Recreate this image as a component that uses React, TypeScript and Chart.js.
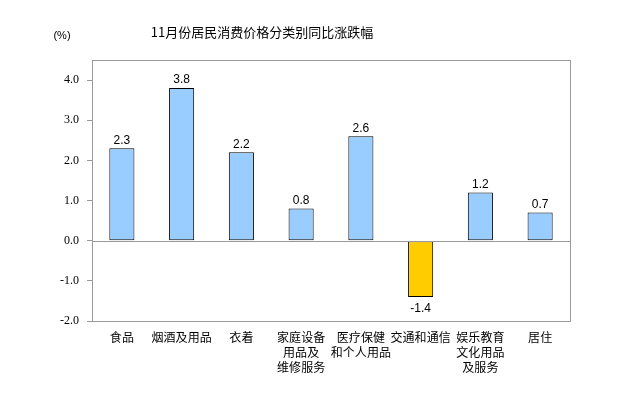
import React, { useEffect, useRef } from "react";
import { Chart, registerables } from "chart.js";

Chart.register(...registerables);

const TITLE = "11月份居民消费价格分类别同比涨跌幅";
const UNIT = "(%)";
const categories: (string | string[])[] = [
  "食品",
  "烟酒及用品",
  "衣着",
  ["家庭设备", "用品及", "维修服务"],
  ["医疗保健", "和个人用品"],
  "交通和通信",
  ["娱乐教育", "文化用品", "及服务"],
  "居住",
];
const values = [2.3, 3.8, 2.2, 0.8, 2.6, -1.4, 1.2, 0.7];
const yTicks = [-2, -1, 0, 1, 2, 3, 4];

const CJK = "'Noto Sans CJK SC', 'Liberation Sans', sans-serif";
const SANS = "'Liberation Sans', Arial, sans-serif";
const SERIF = "'Liberation Serif', 'Times New Roman', serif";

const decorPlugin = {
  id: "decor",
  afterDraw(chart: any) {
    const { ctx, chartArea } = chart;
    const y = chart.scales.y;
    ctx.save();
    // zero line
    const y0 = Math.round(y.getPixelForValue(0)) + 0.5;
    ctx.strokeStyle = "#999999";
    ctx.lineWidth = 1;
    ctx.beginPath();
    ctx.moveTo(chartArea.left, y0);
    ctx.lineTo(chartArea.right, y0);
    ctx.stroke();
    // frame
    ctx.strokeRect(
      Math.round(chartArea.left) + 0.5,
      Math.round(chartArea.top) + 0.5,
      Math.round(chartArea.right - chartArea.left),
      Math.round(chartArea.bottom - chartArea.top)
    );
    // value labels
    const meta = chart.getDatasetMeta(0);
    ctx.fillStyle = "#000";
    ctx.font = `12px ${SANS}`;
    ctx.textAlign = "center";
    meta.data.forEach((bar: any, i: number) => {
      const v = values[i];
      if (v >= 0) {
        ctx.textBaseline = "bottom";
        ctx.fillText(v.toFixed(1), bar.x, bar.y - 2);
      } else {
        ctx.textBaseline = "top";
        ctx.fillText(v.toFixed(1), bar.x, bar.y + 6);
      }
    });
    // title
    ctx.font = `13px ${CJK}`;
    ctx.textBaseline = "middle";
    ctx.fillText(TITLE, 262, 32);
    ctx.font = `11px ${SANS}`;
    ctx.fillText(UNIT, 62, 36);
    ctx.restore();
  },
};

export default function App() {
  const ref = useRef<HTMLCanvasElement | null>(null);
  useEffect(() => {
    document.body.style.margin = "0";
    const chart = new Chart(ref.current as HTMLCanvasElement, {
      type: "bar",
      data: {
        labels: categories,
        datasets: [
          {
            data: values,
            backgroundColor: values.map((v) => (v < 0 ? "#FFCC00" : "#99CCFF")),
            borderColor: "#000000",
            borderWidth: 1,
            borderSkipped: false,
            categoryPercentage: 1,
            barPercentage: 0.42,
          },
        ],
      },
      options: {
        animation: false,
        responsive: false,
        maintainAspectRatio: false,
        layout: { padding: { left: 0, right: 65, top: 60, bottom: 0 } },
        plugins: {
          legend: { display: false },
          title: { display: false },
          tooltip: { enabled: false },
        },
        scales: {
          x: {
            grid: { display: false, drawTicks: false },
            border: { display: false },
            ticks: {
              color: "#000",
              font: { family: CJK, size: 12, lineHeight: 1.25 },
              padding: 9,
              maxRotation: 0,
              autoSkip: false,
            },
            afterFit: (s: any) => {
              s.height = 73;
            },
          },
          y: {
            min: -2,
            max: 4.5,
            grid: {
              drawOnChartArea: false,
              drawTicks: true,
              tickLength: 5,
              color: "#999999",
            },
            border: { display: false },
            afterBuildTicks: (s: any) => {
              s.ticks = yTicks.map((v) => ({ value: v }));
            },
            ticks: {
              color: "#000",
              font: { family: SERIF, size: 12 },
              padding: 8,
              callback: (v: any) => Number(v).toFixed(1),
            },
            afterFit: (s: any) => {
              s.width = 92;
            },
          },
        },
      },
      plugins: [decorPlugin],
    });
    return () => chart.destroy();
  }, []);
  return (
    <div style={{ width: 635, height: 394 }}>
      <canvas ref={ref} width={635} height={394} style={{ display: "block" }} />
    </div>
  );
}
